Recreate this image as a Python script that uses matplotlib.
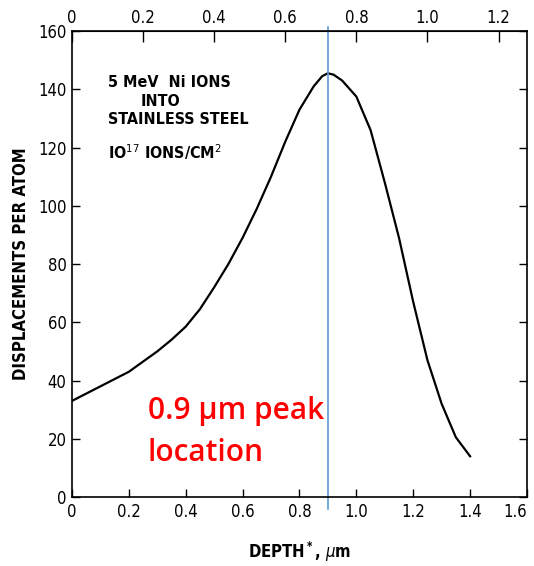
import numpy as np
import matplotlib.pyplot as plt

# depth (um, corrected scale) vs displacements per atom
depth = [0.0, 0.05, 0.1, 0.15, 0.2, 0.25, 0.3, 0.35, 0.4, 0.45, 0.5, 0.55,
         0.6, 0.65, 0.7, 0.75, 0.8, 0.85, 0.88, 0.9, 0.92, 0.95, 1.0, 1.05,
         1.1, 1.15, 1.2, 1.25, 1.3, 1.35, 1.4]
dpa = [33, 35.5, 38, 40.5, 43, 46.5, 50, 54, 58.5, 64.5, 72, 80,
       89, 99, 110, 122, 133, 141, 144.5, 145.5, 145, 143, 137.5, 126,
       108, 89, 67, 47, 32, 20.5, 14]

peak_depth = 0.9
bottom_ticks = [0, 0.2, 0.4, 0.6, 0.8, 1.0, 1.2, 1.4, 1.6]
bottom_labels = ["0", "0.2", "0.4", "0.6", "0.8", "1.0", "1.2", "1.4", "1.6"]
top_ticks = [0, 0.2, 0.4, 0.6, 0.8, 1.0, 1.2]
top_labels = ["0", "0.2", "0.4", "0.6", "0.8", "1.0", "1.2"]
y_ticks = [0, 20, 40, 60, 80, 100, 120, 140, 160]

plt.rcParams['font.family'] = ['DejaVu Sans']
plt.rcParams['font.stretch'] = 'condensed'

fig = plt.figure(figsize=(5.34, 5.66), dpi=100)
ax = fig.add_axes([0.1348, 0.1219, 0.852, 0.8233])

ax.plot(depth, dpa, color='black', lw=1.6)
ax.set_xlim(0, 1.6)
ax.set_ylim(0, 160)

ax.set_xticks(bottom_ticks)
ax.set_xticklabels(bottom_labels, fontsize=12)
ax.get_xticklabels()[-1].set_horizontalalignment('right')
ax.set_yticks(y_ticks)
ax.set_yticklabels([str(v) for v in y_ticks], fontsize=12)
ax.tick_params(direction='in', length=6, width=1, right=True, pad=4)

top = ax.secondary_xaxis('top', functions=(lambda x: x * 0.8, lambda x: x / 0.8))
top.set_xticks(top_ticks)
top.set_xticklabels(top_labels, fontsize=12)
top.tick_params(direction='in', length=8, width=1, pad=3)

for s in ax.spines.values():
    s.set_linewidth(1.2)

ax.set_xlabel(r"DEPTH$^{\bf *}$, $\mu$m", fontsize=12,
              fontweight='bold', labelpad=14)
ax.set_ylabel("DISPLACEMENTS PER ATOM", fontsize=12,
              fontweight='bold', labelpad=6)

txt = dict(fontsize=11.5, fontweight='bold', transform=ax.transAxes,
           va='center')
ax.text(0.079, 0.89, "5 MeV  Ni IONS", **txt)
ax.text(0.15, 0.849, "INTO", **txt)
ax.text(0.079, 0.811, "STAINLESS STEEL", **txt)
ax.text(0.079, 0.74, r"IO$^{17}$ IONS/CM$^2$", **txt)

ax.axvline(peak_depth, ymin=-0.025, ymax=1.008, color='#5b9bd5', lw=1.2,
           clip_on=False)

ax.text(0.167, 0.14, "0.9 \u00b5m peak\nlocation", transform=ax.transAxes,
        color='red', fontsize=21.5, family=['Open Sans', 'DejaVu Sans'],
        fontstretch='normal', fontweight='semibold', va='center',
        linespacing=1.5)

fig.savefig('out.png', dpi=100)
